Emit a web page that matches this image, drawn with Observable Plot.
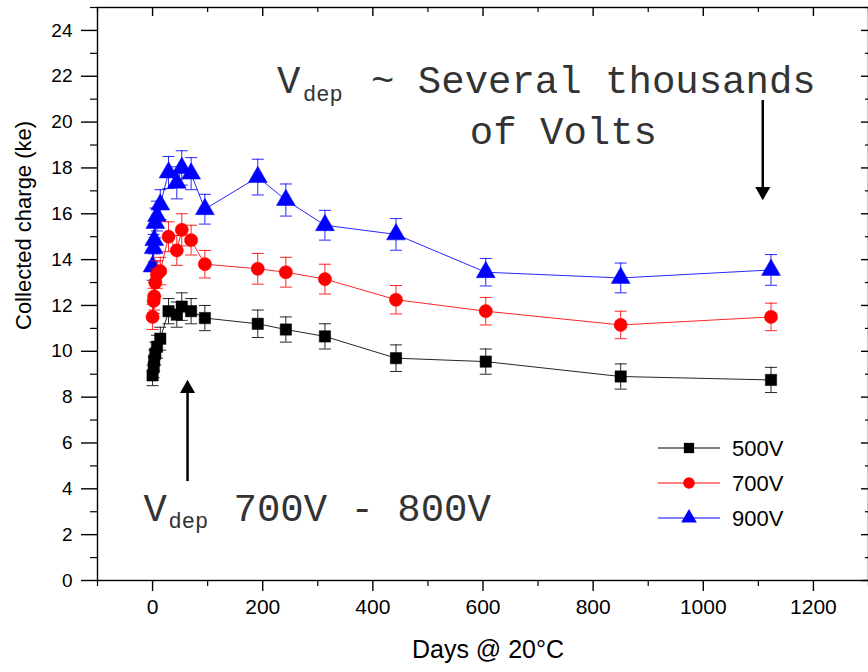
<!DOCTYPE html>
<html><head><meta charset="utf-8">
<script src="https://cdn.jsdelivr.net/npm/d3@7"></script>
<script src="https://cdn.jsdelivr.net/npm/@observablehq/plot@0.6"></script>
<style>
body{margin:0;background:#fff;}
#chart{position:relative;width:868px;height:672px;overflow:hidden;background:#fff;}
#legend{position:absolute;left:650px;top:428px;}
</style></head><body><div id="chart"></div>
<script>
// ---- data ----
const days = [0, 2, 3, 5, 8, 14, 29, 44, 53, 70, 95, 191, 242, 313, 442, 605, 850, 1123];
const series = ["500V", "700V", "900V"];
const charge500 = [8.95, 9.3, 9.6, 9.9, 10.2, 10.55, 11.75, 11.6, 11.95, 11.75, 11.45, 11.2, 10.95, 10.65, 9.7, 9.55, 8.9, 8.75];
const charge700 = [11.5, 12.2, 12.4, 13.0, 13.35, 13.5, 15.0, 14.4, 15.3, 14.85, 13.8, 13.6, 13.45, 13.15, 12.25, 11.75, 11.15, 11.5];
const charge900 = [13.7, 14.5, 14.85, 15.6, 15.9, 16.4, 17.8, 17.35, 18.0, 17.75, 16.2, 17.6, 16.6, 15.5, 15.1, 13.45, 13.2, 13.55];
const err500 = [0.45, 0.45, 0.45, 0.5, 0.5, 0.5, 0.55, 0.55, 0.6, 0.55, 0.55, 0.6, 0.55, 0.55, 0.58, 0.55, 0.55, 0.55];
const err700 = [0.55, 0.55, 0.6, 0.6, 0.6, 0.6, 0.65, 0.65, 0.7, 0.65, 0.6, 0.67, 0.65, 0.65, 0.62, 0.6, 0.6, 0.6];
const err900 = [0.6, 0.6, 0.6, 0.65, 0.65, 0.65, 0.7, 0.7, 0.75, 0.7, 0.65, 0.78, 0.7, 0.65, 0.69, 0.6, 0.65, 0.67];
const xMajor = [0, 200, 400, 600, 800, 1000, 1200];
const xMinor = [-100, 100, 300, 500, 700, 900, 1100, 1300];
const yMajor = [0, 2, 4, 6, 8, 10, 12, 14, 16, 18, 20, 22, 24];
const yMinor = [1, 3, 5, 7, 9, 11, 13, 15, 17, 19, 21, 23, 25];
const xTitle = "Days @ 20°C";
const yTitle = "Collected charge (ke)";
// annotations (data coordinates: days, ke)
const noteTopX = 226, noteTopY = 21.8;
const noteTop2X = 746, noteTop2Y = 19.6;
const noteBotX = -16.5, noteBotY = 3.16;
const arrowDown = [{x: 1108, y1: 20.7, y2: 16.6}];
const arrowUp = [{x: 63.5, y1: 4.6, y2: 8.75}];

const colors = {"500V": "#000000", "700V": "#ff0000", "900V": "#0000ff"};
const symbols = {"500V": "square", "700V": "circle", "900V": "triangle"};
const radius = {"500V": 6.4, "700V": 6.6, "900V": 7};
const values = {"500V": charge500, "700V": charge700, "900V": charge900};
const errs = {"500V": err500, "700V": err700, "900V": err900};

const capSymbol = {draw(ctx, size) { const r = Math.sqrt(size / Math.PI); ctx.moveTo(-r, 0); ctx.lineTo(r, 0); }};

const seriesMarks = [];
for (const s of series.slice().reverse()) {
  const rows = days.map((d, i) => ({day: d, v: values[s][i], lo: values[s][i] - errs[s][i], hi: values[s][i] + errs[s][i]}));
  const c = colors[s];
  seriesMarks.push(
    Plot.line(rows, {x: "day", y: "v", stroke: c, strokeWidth: 1, strokeOpacity: 0.85}),
    Plot.ruleX(rows, {x: "day", y1: "lo", y2: "hi", stroke: c, strokeWidth: 1, strokeOpacity: 0.85}),
    Plot.dot(rows, {x: "day", y: "hi", symbol: capSymbol, r: 6, stroke: c, fill: "none", strokeWidth: 1, strokeOpacity: 0.85}),
    Plot.dot(rows, {x: "day", y: "lo", symbol: capSymbol, r: 6, stroke: c, fill: "none", strokeWidth: 1, strokeOpacity: 0.85}),
    Plot.dot(rows, {x: "day", y: "v", symbol: symbols[s], r: radius[s], fill: c, stroke: c, strokeWidth: 0.5})
  );
}

const mono = "'Courier New', 'Liberation Mono', monospace";
const noteColor = "#333";
const narrow = "'Liberation Sans Narrow', 'Arial Narrow', Arial, 'Liberation Sans', sans-serif";

const plot = Plot.plot({
  width: 868, height: 672,
  marginLeft: 97, marginRight: 0, marginTop: 7, marginBottom: 92,
  x: {domain: [-100, 1300]},
  y: {domain: [0, 25]},
  style: {fontFamily: "Arial, 'Liberation Sans', sans-serif", fontSize: "19px", color: "#000", background: "#fff", overflow: "visible"},
  marks: [
    Plot.frame({stroke: "#000", strokeWidth: 1.4}),
    // left axis
    Plot.axisY({ticks: yMajor, tickSize: 16, tickPadding: 9, label: null, fontSize: 19, strokeWidth: 1.4}),
    Plot.axisY({ticks: yMinor, tickSize: 7, tickFormat: () => "", label: null, strokeWidth: 1.2}),
    // right mirrored ticks (inward)
    Plot.axisY({anchor: "right", ticks: yMajor, tickSize: 8, dx: -8, tickFormat: () => "", label: null, strokeWidth: 1.4}),
    Plot.axisY({anchor: "right", ticks: yMinor, tickSize: 4, dx: -4, tickFormat: () => "", label: null, strokeWidth: 1.2}),
    // bottom axis
    Plot.axisX({ticks: xMajor, tickSize: 11, tickPadding: 8, label: null, fontSize: 21, tickFormat: d3.format("d"),
      fontFamily: narrow, strokeWidth: 1.4}),
    Plot.axisX({ticks: xMinor, tickSize: 6, tickFormat: () => "", label: null, strokeWidth: 1.2}),
    // top mirrored ticks (inward)
    Plot.axisX({anchor: "top", ticks: xMajor, tickSize: 8, dy: 8, tickFormat: () => "", label: null, strokeWidth: 1.4}),
    Plot.axisX({anchor: "top", ticks: xMinor, tickSize: 4, dy: 4, tickFormat: () => "", label: null, strokeWidth: 1.2}),
    // axis titles
    Plot.text([yTitle], {frameAnchor: "left", rotate: -90, dx: -74, dy: 36, fontSize: 22, text: d => d}),
    Plot.text([xTitle], {frameAnchor: "bottom", dx: 5, dy: 77, fontSize: 25, text: d => d, fontFamily: narrow}),
    ...seriesMarks,
    // annotations
    Plot.text(["V"], {x: noteTopX, y: noteTopY, text: d => d, textAnchor: "start", fontSize: 39, fontFamily: mono, fill: noteColor}),
    Plot.text(["dep"], {x: noteTopX, y: noteTopY, text: d => d, textAnchor: "start", dx: 26, dy: 13, fontSize: 22, fontFamily: mono, fill: noteColor}),
    Plot.text(["~ Several thousands"], {x: noteTopX, y: noteTopY, text: d => d, textAnchor: "start", dx: 94, fontSize: 39, fontFamily: mono, fill: noteColor}),
    Plot.text(["of Volts"], {x: noteTop2X, y: noteTop2Y, text: d => d, textAnchor: "middle", fontSize: 39, fontFamily: mono, fill: noteColor}),
    Plot.text(["V"], {x: noteBotX, y: noteBotY, text: d => d, textAnchor: "start", fontSize: 39, fontFamily: mono, fill: noteColor}),
    Plot.text(["dep"], {x: noteBotX, y: noteBotY, text: d => d, textAnchor: "start", dx: 25, dy: 13, fontSize: 22, fontFamily: mono, fill: noteColor}),
    Plot.text(["700V - 800V"], {x: noteBotX, y: noteBotY, text: d => d, textAnchor: "start", dx: 90, fontSize: 39, fontFamily: mono, fill: noteColor}),
    Plot.link(arrowDown, {x1: "x", x2: "x", y1: "y1", y2: "y2", stroke: "#000", strokeWidth: 2.5, dy: -6}),
    Plot.dot(arrowDown, {x: "x", y: "y2", symbol: "triangle", r: 5.6, rotate: 180, fill: "#000", dy: -8.6}),
    Plot.link(arrowUp, {x1: "x", x2: "x", y1: "y1", y2: "y2", stroke: "#000", strokeWidth: 2.5, dy: 6}),
    Plot.dot(arrowUp, {x: "x", y: "y2", symbol: "triangle", r: 5.6, fill: "#000", dy: 8.6})
  ]
});
document.getElementById("chart").appendChild(plot);

// legend (chart chrome)
const lg = d3.select("#chart").append("svg").attr("id", "legend").attr("width", 170).attr("height", 110);
series.forEach((s, i) => {
  const y = 20 + i * 35;
  const g = lg.append("g").attr("transform", `translate(0,${y})`);
  g.append("line").attr("x1", 8).attr("x2", 70).attr("y1", 0).attr("y2", 0).attr("stroke", colors[s]).attr("stroke-width", 1);
  g.append("path").attr("transform", "translate(39,0)")
    .attr("d", d3.symbol(s === "500V" ? d3.symbolSquare : s === "700V" ? d3.symbolCircle : d3.symbolTriangle, Math.PI * 5.8 * 5.8)())
    .attr("fill", colors[s]);
  g.append("text").attr("x", 82).attr("y", 8).attr("font-family", "Arial, 'Liberation Sans', sans-serif")
    .attr("font-size", 22).attr("fill", "#000").text(s);
});
</script>
</body></html>
